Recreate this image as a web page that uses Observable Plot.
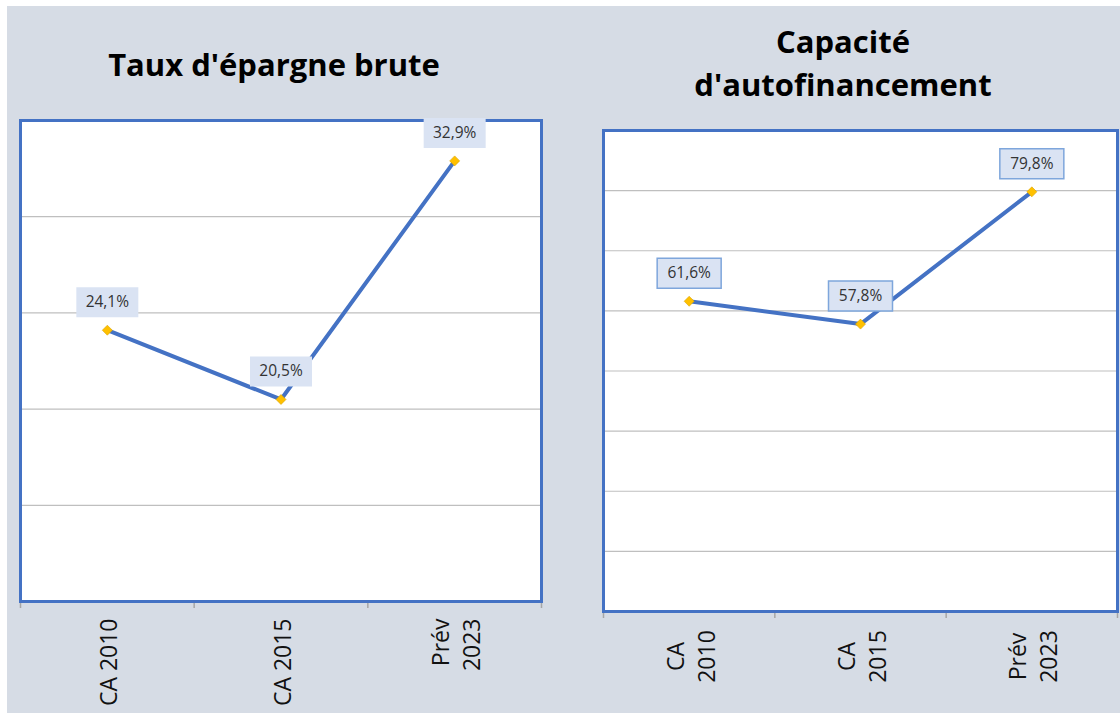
<!DOCTYPE html>
<html><head><meta charset="utf-8">
<script src="https://cdn.jsdelivr.net/npm/d3@7"></script>
<script src="https://cdn.jsdelivr.net/npm/@observablehq/plot@0.6"></script>
<style>
body{margin:0;background:#fff;width:1120px;height:713px;overflow:hidden;font-family:"Open Sans",sans-serif;position:relative}
#bg{position:absolute;left:7px;top:6px;width:1113px;height:707px;background:#d6dce5}
.title{position:absolute;font-weight:700;font-size:31px;color:#000;text-align:center;line-height:43px}
.chart{position:absolute}
.chart svg{overflow:visible}
</style></head><body>
<div id="bg"></div>
<div class="title" style="left:0px;width:548px;top:43px">Taux d'épargne brute</div>
<div class="title" style="left:603px;width:480px;top:20px">Capacité<br>d'autofinancement</div>
<div class="chart" id="c1" style="left:0px;top:100px"></div>
<div class="chart" id="c2" style="left:583px;top:110px"></div>
<script>
// Chart 1 : Taux d'épargne brute
const categories1 = ["CA 2010", "CA 2015", "Prév\n2023"];
const values1 = [24.1, 20.5, 32.9];
const labels1 = ["24,1%", "20,5%", "32,9%"];
const grid1 = [15, 20, 25, 30];
const yDomain1 = [10, 35];

// Chart 2 : Capacité d'autofinancement
const categories2 = ["CA\n2010", "CA\n2015", "Prév\n2023"];
const values2 = [61.6, 57.8, 79.8];
const labels2 = ["61,6%", "57,8%", "79,8%"];
const grid2 = [20, 30, 40, 50, 60, 70, 80];
const yDomain2 = [10, 90];

const boxSymbol = (w, h) => ({draw(ctx) { ctx.rect(-w / 2, -h / 2, w, h); }});
const diamondSymbol = (s) => ({draw(ctx) { ctx.moveTo(0, -s); ctx.lineTo(s, 0); ctx.lineTo(0, s); ctx.lineTo(-s, 0); ctx.closePath(); }});

function chart({categories, values, labels, grid, yDomain, width, height, margins, boxStroke, boxW, tickAnchor, tickDy}) {
  const data = categories.map((c, i) => ({cat: c, i: i + 0.5, v: values[i], label: labels[i]}));
  const bounds = d3.range(categories.length + 1);
  return Plot.plot({
    width, height,
    marginLeft: margins[0], marginRight: margins[1], marginTop: margins[2], marginBottom: margins[3],
    x: {type: "linear", domain: [0, categories.length], axis: null, label: null},
    y: {domain: yDomain, axis: null},
    style: {background: "transparent", fontFamily: "Open Sans, sans-serif", overflow: "visible"},
    marks: [
      Plot.frame({fill: "white", stroke: null}),
      Plot.ruleY(grid, {stroke: "#bfbfbf", strokeWidth: 1.2}),
      Plot.axisX(bounds, {tickSize: 7, tickFormat: () => "", label: null, stroke: "#a6a6a6", strokeWidth: 1.5, strokeOpacity: 1}),
      Plot.frame({stroke: "#4472c4", strokeWidth: 3}),
      Plot.line(data, {x: "i", y: "v", stroke: "#4472c4", strokeWidth: 4}),
      Plot.dot(data, {x: "i", y: "v", symbol: diamondSymbol(5), r: 5, fill: "#ffc000", stroke: "#d9a300", strokeWidth: 0.6}),
      Plot.dot(data, {x: "i", y: "v", dy: -28, r: 5, symbol: boxSymbol(boxW, 30), fill: "#dae3f3", stroke: boxStroke, strokeWidth: boxStroke ? 1.5 : 0}),
      Plot.text(data, {x: "i", y: "v", dy: -28, text: "label", fontSize: 15.5, fill: "#333"}),
      Plot.text(data, {x: "i", frameAnchor: "bottom", dy: tickDy, text: "cat", rotate: -90, textAnchor: tickAnchor, lineAnchor: "middle", lineHeight: 1.35, fontSize: 23, fill: "#111"})
    ]
  });
}

document.getElementById("c1").append(chart({
  categories: categories1, values: values1, labels: labels1, grid: grid1, yDomain: yDomain1,
  width: 560, height: 613, margins: [20, 19, 20, 112], boxStroke: null, boxW: 62,
  tickAnchor: "end", tickDy: 17
}));
document.getElementById("c2").append(chart({
  categories: categories2, values: values2, labels: labels2, grid: grid2, yDomain: yDomain2,
  width: 537, height: 603, margins: [20, 3, 20, 102], boxStroke: "#7ea6dc", boxW: 64,
  tickAnchor: "middle", tickDy: 45
}));
</script>
</body></html>
